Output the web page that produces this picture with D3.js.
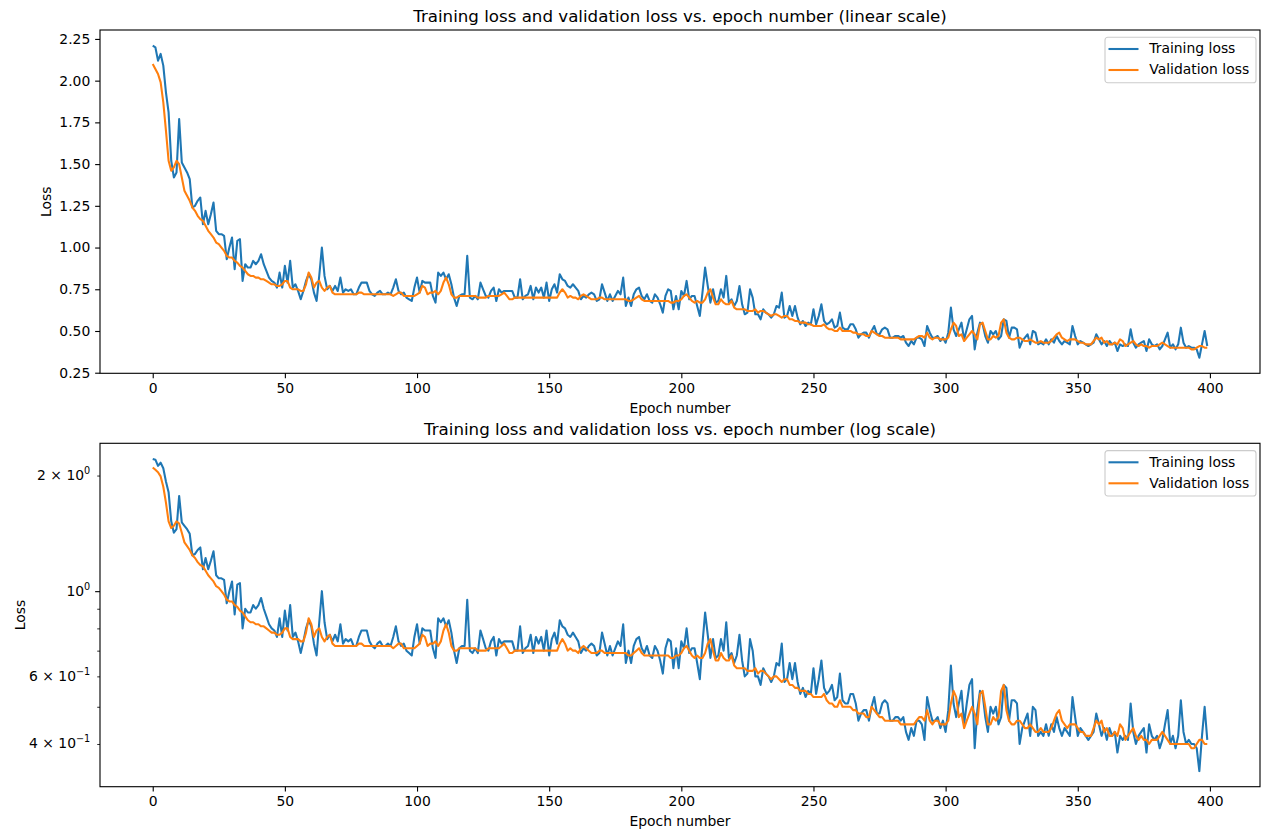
<!DOCTYPE html>
<html>
<head>
<meta charset="utf-8">
<title>Training loss and validation loss</title>
<style>
  body { margin: 0; background: #fff; }
  svg { display: block; font-family: "DejaVu Sans", sans-serif; }
  .tick line { stroke: #000; }
  .tick text { font-size: 13.9px; fill: #000; font-family: "DejaVu Sans"; }
</style>
<script src="https://d3js.org/d3.v7.min.js"></script>
</head>
<body>
<script>
// epochs 0..399
const epochs = d3.range(0, 400)

const trainLoss = [
  2.21, 2.20, 2.12, 2.16, 2.09, 1.93, 1.81, 1.52, 1.42, 1.45,
  1.77, 1.51, 1.48, 1.45, 1.41, 1.24, 1.25, 1.28, 1.30, 1.14,
  1.22, 1.14, 1.20, 1.27, 1.10, 1.08, 1.08, 1.07, 0.93, 1.00,
  1.06, 0.87, 1.04, 1.05, 0.80, 0.90, 0.88, 0.88, 0.92, 0.90,
  0.92, 0.96, 0.90, 0.86, 0.82, 0.80, 0.79, 0.76, 0.85, 0.76,
  0.89, 0.79, 0.92, 0.76, 0.78, 0.74, 0.69, 0.74, 0.80, 0.84,
  0.81, 0.73, 0.68, 0.83, 1.00, 0.83, 0.75, 0.77, 0.74, 0.77,
  0.74, 0.82, 0.73, 0.75, 0.74, 0.75, 0.72, 0.72, 0.76, 0.79,
  0.79, 0.79, 0.74, 0.72, 0.71, 0.73, 0.74, 0.72, 0.72, 0.73,
  0.72, 0.76, 0.81, 0.74, 0.72, 0.73, 0.70, 0.69, 0.68, 0.76,
  0.82, 0.73, 0.80, 0.79, 0.79, 0.79, 0.71, 0.67, 0.85, 0.83,
  0.85, 0.81, 0.84, 0.78, 0.70, 0.65, 0.71, 0.72, 0.72, 0.95,
  0.70, 0.69, 0.71, 0.69, 0.79, 0.75, 0.71, 0.70, 0.74, 0.76,
  0.68, 0.75, 0.73, 0.74, 0.74, 0.74, 0.74, 0.70, 0.70, 0.81,
  0.69, 0.71, 0.72, 0.77, 0.69, 0.76, 0.73, 0.76, 0.70, 0.79,
  0.68, 0.75, 0.78, 0.73, 0.84, 0.81, 0.80, 0.77, 0.76, 0.78,
  0.76, 0.74, 0.69, 0.71, 0.70, 0.72, 0.73, 0.72, 0.68, 0.69,
  0.78, 0.73, 0.68, 0.72, 0.68, 0.71, 0.74, 0.72, 0.82, 0.65,
  0.70, 0.65, 0.72, 0.75, 0.76, 0.71, 0.69, 0.72, 0.68, 0.67,
  0.72, 0.70, 0.66, 0.61, 0.71, 0.75, 0.74, 0.63, 0.71, 0.63,
  0.74, 0.71, 0.80, 0.69, 0.71, 0.71, 0.65, 0.59, 0.73, 0.88,
  0.77, 0.67, 0.75, 0.67, 0.68, 0.75, 0.70, 0.83, 0.67, 0.69,
  0.65, 0.68, 0.77, 0.66, 0.60, 0.61, 0.75, 0.70, 0.60, 0.60,
  0.57, 0.63, 0.61, 0.60, 0.58, 0.60, 0.65, 0.64, 0.73, 0.58,
  0.59, 0.65, 0.59, 0.65, 0.58, 0.54, 0.56, 0.53, 0.55, 0.54,
  0.63, 0.54, 0.59, 0.66, 0.56, 0.54, 0.55, 0.57, 0.52, 0.53,
  0.61, 0.52, 0.51, 0.51, 0.54, 0.54, 0.51, 0.46, 0.48, 0.49,
  0.49, 0.46, 0.50, 0.53, 0.48, 0.48, 0.51, 0.52, 0.51, 0.46,
  0.46, 0.47, 0.47, 0.46, 0.47, 0.43, 0.41, 0.44, 0.42, 0.46,
  0.46, 0.45, 0.41, 0.53, 0.49, 0.46, 0.46, 0.47, 0.44, 0.46,
  0.43, 0.49, 0.64, 0.51, 0.47, 0.51, 0.55, 0.45, 0.51, 0.57,
  0.59, 0.39, 0.49, 0.55, 0.54, 0.47, 0.43, 0.50, 0.48, 0.50,
  0.45, 0.47, 0.57, 0.56, 0.46, 0.52, 0.52, 0.51, 0.40, 0.44,
  0.46, 0.48, 0.42, 0.50, 0.49, 0.42, 0.43, 0.42, 0.45, 0.42,
  0.45, 0.43, 0.47, 0.44, 0.42, 0.44, 0.43, 0.42, 0.53, 0.47,
  0.42, 0.44, 0.43, 0.42, 0.41, 0.42, 0.43, 0.48, 0.45, 0.42,
  0.44, 0.41, 0.44, 0.42, 0.43, 0.38, 0.42, 0.41, 0.42, 0.41,
  0.51, 0.43, 0.40, 0.42, 0.43, 0.44, 0.38, 0.45, 0.42, 0.41,
  0.42, 0.39, 0.41, 0.45, 0.49, 0.40, 0.42, 0.39, 0.42, 0.52,
  0.43, 0.40, 0.41, 0.40, 0.40, 0.39, 0.34, 0.42, 0.50, 0.41
]

const valLoss = [
  2.10, 2.07, 2.04, 1.99, 1.87, 1.70, 1.52, 1.46, 1.48, 1.52,
  1.50, 1.42, 1.34, 1.31, 1.28, 1.24, 1.22, 1.19, 1.17, 1.16,
  1.13, 1.10, 1.08, 1.06, 1.03, 1.02, 1.00, 0.98, 0.95, 0.94,
  0.94, 0.92, 0.91, 0.89, 0.88, 0.86, 0.84, 0.83, 0.83, 0.82,
  0.82, 0.81, 0.81, 0.80, 0.79, 0.78, 0.78, 0.77, 0.77, 0.78,
  0.80, 0.80, 0.76, 0.75, 0.75, 0.75, 0.74, 0.74, 0.78, 0.85,
  0.82, 0.76, 0.79, 0.80, 0.76, 0.74, 0.76, 0.77, 0.73, 0.72,
  0.72, 0.72, 0.72, 0.72, 0.72, 0.72, 0.72, 0.72, 0.73, 0.73,
  0.72, 0.72, 0.72, 0.72, 0.72, 0.72, 0.72, 0.72, 0.72, 0.72,
  0.72, 0.71, 0.72, 0.73, 0.73, 0.71, 0.71, 0.71, 0.71, 0.71,
  0.72, 0.73, 0.77, 0.76, 0.72, 0.73, 0.73, 0.74, 0.72, 0.74,
  0.79, 0.82, 0.78, 0.72, 0.70, 0.70, 0.71, 0.71, 0.71, 0.71,
  0.71, 0.71, 0.71, 0.70, 0.70, 0.70, 0.70, 0.71, 0.71, 0.71,
  0.71, 0.71, 0.72, 0.73, 0.71, 0.69, 0.69, 0.70, 0.70, 0.70,
  0.70, 0.70, 0.70, 0.70, 0.70, 0.70, 0.70, 0.70, 0.70, 0.70,
  0.70, 0.70, 0.70, 0.70, 0.73, 0.75, 0.73, 0.70, 0.71, 0.70,
  0.70, 0.69, 0.71, 0.72, 0.71, 0.70, 0.69, 0.69, 0.69, 0.70,
  0.70, 0.69, 0.69, 0.69, 0.69, 0.69, 0.69, 0.69, 0.69, 0.69,
  0.68, 0.68, 0.69, 0.70, 0.71, 0.69, 0.68, 0.68, 0.68, 0.68,
  0.68, 0.68, 0.68, 0.68, 0.68, 0.68, 0.67, 0.67, 0.68, 0.68,
  0.69, 0.71, 0.72, 0.70, 0.68, 0.67, 0.68, 0.67, 0.67, 0.69,
  0.73, 0.75, 0.70, 0.66, 0.66, 0.69, 0.67, 0.66, 0.66, 0.68,
  0.64, 0.63, 0.63, 0.63, 0.63, 0.62, 0.62, 0.62, 0.63, 0.61,
  0.62, 0.62, 0.61, 0.60, 0.59, 0.60, 0.60, 0.59, 0.58, 0.59,
  0.59, 0.57, 0.57, 0.56, 0.56, 0.55, 0.55, 0.55, 0.54, 0.54,
  0.53, 0.53, 0.53, 0.53, 0.54, 0.52, 0.51, 0.51, 0.50, 0.50,
  0.52, 0.50, 0.50, 0.50, 0.50, 0.49, 0.49, 0.48, 0.48, 0.48,
  0.47, 0.47, 0.50, 0.49, 0.48, 0.47, 0.47, 0.46, 0.46, 0.46,
  0.46, 0.46, 0.46, 0.45, 0.45, 0.45, 0.45, 0.45, 0.45, 0.46,
  0.47, 0.47, 0.46, 0.49, 0.46, 0.45, 0.46, 0.46, 0.45, 0.45,
  0.45, 0.46, 0.51, 0.55, 0.53, 0.47, 0.48, 0.44, 0.46, 0.48,
  0.50, 0.48, 0.45, 0.54, 0.55, 0.50, 0.45, 0.45, 0.47, 0.46,
  0.47, 0.55, 0.57, 0.49, 0.46, 0.45, 0.45, 0.46, 0.46, 0.45,
  0.44, 0.44, 0.45, 0.44, 0.43, 0.43, 0.44, 0.43, 0.43, 0.43,
  0.44, 0.46, 0.48, 0.49, 0.46, 0.45, 0.44, 0.45, 0.45, 0.45,
  0.44, 0.43, 0.43, 0.42, 0.42, 0.42, 0.44, 0.46, 0.45, 0.46,
  0.43, 0.44, 0.42, 0.42, 0.43, 0.42, 0.45, 0.44, 0.41, 0.42,
  0.43, 0.44, 0.42, 0.41, 0.42, 0.41, 0.41, 0.40, 0.41, 0.41,
  0.41, 0.42, 0.43, 0.42, 0.41, 0.40, 0.40, 0.40, 0.40, 0.40,
  0.40, 0.40, 0.40, 0.39, 0.39, 0.40, 0.41, 0.41, 0.40, 0.40
]

const seriesNames = ["Training loss", "Validation loss"]
const seriesColors = ["#1f77b4", "#ff7f0e"]
const titles = [
  "Training loss and validation loss vs. epoch number (linear scale)",
  "Training loss and validation loss vs. epoch number (log scale)"
]
const xTicks = [0, 50, 100, 150, 200, 250, 300, 350, 400]
const linTicks = [0.25, 0.50, 0.75, 1.00, 1.25, 1.50, 1.75, 2.00, 2.25]
const logMajorTicks = [1]
const logMinorTicks = [0.4, 0.5, 0.6, 0.7, 0.8, 0.9, 2]
const logLabelTicks = [2, 1, 0.6, 0.4]
const logLabelBase = ["2 \u00d7 10", "10", "6 \u00d7 10", "4 \u00d7 10"]
const logLabelExp = ["0", "0", "\u22121", "\u22121"]

var width = 1266, height = 834
var axLeft = 100, axRight = 1260
// matplotlib sizes at 100 dpi
var tickLen = 4.86, minorLen = 2.78, tickPad = 4.86, lw = 2.08

var svg = d3.select("body").append("svg")
  .attr("width", width)
  .attr("height", height)

svg.append("rect").attr("width", width).attr("height", height).attr("fill", "#fff")

var x = d3.scaleLinear()
  .domain([0 - 0.05 * 399, 399 + 0.05 * 399])
  .range([axLeft, axRight])

var all = trainLoss.concat(valLoss)
var lo = d3.min(all), hi = d3.max(all)

var panels = [
  { top: 30, bottom: 373.3, log: false, ylabelX: 50.5 },
  { top: 443.3, bottom: 786.7, log: true, ylabelX: 24.5 }
]

panels.forEach(function(p, k) {
  var y
  if (!p.log) {
    var m = (hi - lo) * 0.05
    y = d3.scaleLinear().domain([lo - m, hi + m]).range([p.bottom, p.top])
  } else {
    var l0 = Math.log10(lo), l1 = Math.log10(hi), lm = (l1 - l0) * 0.05
    y = d3.scaleLog().domain([Math.pow(10, l0 - lm), Math.pow(10, l1 + lm)]).range([p.bottom, p.top])
  }

  var g = svg.append("g")

  // lines
  var line = d3.line()
    .x(function(d, i) { return x(epochs[i]) })
    .y(function(d) { return y(d) })
    .curve(d3.curveLinear)

  ;[trainLoss, valLoss].forEach(function(s, i) {
    g.append("path")
      .datum(s)
      .attr("d", line)
      .attr("fill", "none")
      .attr("stroke", seriesColors[i])
      .attr("stroke-width", lw)
      .attr("stroke-linejoin", "round")
  })

  // x axis
  var xAxis = d3.axisBottom(x).tickValues(xTicks)
    .tickSize(tickLen).tickPadding(tickPad).tickSizeOuter(0)
  var gx = g.append("g")
    .attr("transform", "translate(0," + p.bottom + ")")
    .call(xAxis)
  gx.select(".domain").remove()
  gx.selectAll(".tick line").attr("stroke-width", 1.11)

  // y axis
  if (!p.log) {
    var yAxis = d3.axisLeft(y).tickValues(linTicks).tickFormat(d3.format(".2f"))
      .tickSize(tickLen).tickPadding(tickPad).tickSizeOuter(0)
    var gy = g.append("g").attr("transform", "translate(" + axLeft + ",0)").call(yAxis)
    gy.select(".domain").remove()
    gy.selectAll(".tick line").attr("stroke-width", 1.11)
  } else {
    var gmaj = g.append("g").attr("transform", "translate(" + axLeft + ",0)")
      .call(d3.axisLeft(y).tickValues(logMajorTicks).tickFormat("").tickSize(tickLen).tickSizeOuter(0))
    gmaj.select(".domain").remove()
    gmaj.selectAll(".tick line").attr("stroke-width", 1.11)
    var gmin = g.append("g").attr("transform", "translate(" + axLeft + ",0)")
      .call(d3.axisLeft(y).tickValues(logMinorTicks).tickFormat("").tickSize(minorLen).tickSizeOuter(0))
    gmin.select(".domain").remove()
    gmin.selectAll(".tick line").attr("stroke-width", 0.83)

    var lab = g.append("g").selectAll("text")
      .data(logLabelTicks)
      .enter()
      .append("text")
      .attr("x", axLeft - tickLen - tickPad)
      .attr("y", function(d) { return y(d) + 4.4 })
      .attr("text-anchor", "end")
      .attr("font-size", "13.9px")
      .attr("fill", "#000")
    lab.append("tspan").text(function(d, i) { return logLabelBase[i] })
    lab.append("tspan")
      .attr("dy", -6)
      .attr("font-size", "9.7px")
      .text(function(d, i) { return logLabelExp[i] })
  }

  // frame
  g.append("rect")
    .attr("x", axLeft).attr("y", p.top)
    .attr("width", axRight - axLeft).attr("height", p.bottom - p.top)
    .attr("fill", "none").attr("stroke", "#000").attr("stroke-width", 1.11)

  // title and labels
  g.append("text")
    .attr("x", (axLeft + axRight) / 2).attr("y", p.top - 8.33)
    .attr("text-anchor", "middle").attr("font-size", "16.67px").attr("fill", "#000")
    .text(titles[k])

  g.append("text")
    .attr("x", (axLeft + axRight) / 2).attr("y", p.bottom + 39.7)
    .attr("text-anchor", "middle").attr("font-size", "13.9px").attr("fill", "#000")
    .text("Epoch number")

  g.append("text")
    .attr("transform", "translate(" + p.ylabelX + "," + (p.top + p.bottom) / 2 + ") rotate(-90)")
    .attr("text-anchor", "middle").attr("font-size", "13.9px").attr("fill", "#000")
    .text("Loss")

  // legend
  var lg = g.append("g").attr("transform", "translate(1105," + (p.top + 7.3) + ")")
  lg.append("rect")
    .attr("width", 151).attr("height", 45.4)
    .attr("rx", 2.8)
    .attr("fill", "#fff").attr("fill-opacity", 0.8)
    .attr("stroke", "#cccccc").attr("stroke-width", 1.11)
  var items = lg.selectAll(".item")
    .data(seriesNames)
    .enter()
    .append("g")
    .attr("class", "item")
    .attr("transform", function(d, i) { return "translate(0," + (11.7 + i * 21) + ")" })
  items.append("line")
    .attr("x1", 3.5).attr("x2", 33.5)
    .attr("stroke", function(d, i) { return seriesColors[i] })
    .attr("stroke-width", lw)
  items.append("text")
    .attr("x", 44.3).attr("y", 4.4)
    .attr("font-size", "13.9px").attr("fill", "#000")
    .text(function(d) { return d })
})
</script>
</body>
</html>
